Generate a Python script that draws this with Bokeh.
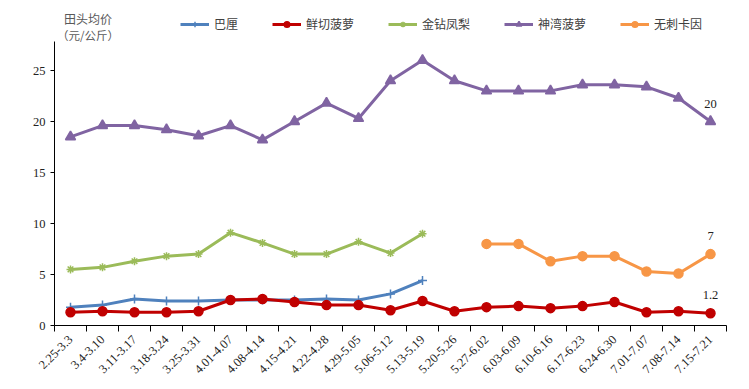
import math
from bokeh.plotting import figure
from bokeh.models import Range1d, FixedTicker, Legend, LegendItem, Label
from bokeh.embed import file_html
from bokeh.resources import INLINE

NaN = float("nan")

weeks = ["2.25-3.3", "3.4-3.10", "3.11-3.17", "3.18-3.24", "3.25-3.31", "4.01-4.07",
         "4.08-4.14", "4.15-4.21", "4.22-4.28", "4.29-5.05", "5.06-5.12", "5.13-5.19",
         "5.20-5.26", "5.27-6.02", "6.03-6.09", "6.10-6.16", "6.17-6.23", "6.24-6.30",
         "7.01-7.07", "7.08-7.14", "7.15-7.21"]

bali = [1.8, 2.0, 2.6, 2.4, 2.4, 2.5, 2.5, 2.5, 2.6, 2.5, 3.1, 4.4,
        NaN, NaN, NaN, NaN, NaN, NaN, NaN, NaN, NaN]
fresh_cut = [1.3, 1.4, 1.3, 1.3, 1.4, 2.5, 2.6, 2.3, 2.0, 2.0, 1.5, 2.4,
             1.4, 1.8, 1.9, 1.7, 1.9, 2.3, 1.3, 1.4, 1.2]
golden = [5.5, 5.7, 6.3, 6.8, 7.0, 9.1, 8.1, 7.0, 7.0, 8.2, 7.1, 9.0,
          NaN, NaN, NaN, NaN, NaN, NaN, NaN, NaN, NaN]
shenwan = [18.5, 19.6, 19.6, 19.2, 18.6, 19.6, 18.2, 20.0, 21.8, 20.3, 24.0, 26.0,
           24.0, 23.0, 23.0, 23.0, 23.6, 23.6, 23.4, 22.3, 20.0]
cayenne = [NaN, NaN, NaN, NaN, NaN, NaN, NaN, NaN, NaN, NaN, NaN, NaN,
           NaN, 8.0, 8.0, 6.3, 6.8, 6.8, 5.3, 5.1, 7.0]

series_names = ["巴厘", "鲜切菠萝", "金钻凤梨", "神湾菠萝", "无刺卡因"]
y_ticks = [0, 5, 10, 15, 20, 25]
y_axis_max = 27.8
y_title = ["田头均价", "（元/公斤）"]

x = list(range(len(weeks)))

# frame spans the full top so the legend and axis title (which sit above the
# axis line) are drawn inside it; the y axis line is bounded to the data area
p = figure(width=749, height=389, output_backend="svg", toolbar_location=None,
           x_range=Range1d(-0.5, len(weeks) - 0.5), y_range=Range1d(0, 325.0 / 10.2),
           min_border_left=54, min_border_right=23, min_border_top=0, min_border_bottom=64)
p.outline_line_color = None
p.xgrid.visible = False
p.ygrid.visible = False
p.background_fill_color = "white"

CJK = "Noto Sans CJK SC"
SERIF = "Liberation Serif"

# axes
p.xaxis.ticker = FixedTicker(ticks=x, minor_ticks=[i - 0.5 for i in range(len(weeks) + 1)])
p.xaxis.major_label_overrides = {i: w for i, w in enumerate(weeks)}
p.xaxis.major_tick_line_color = None
p.xaxis.minor_tick_line_color = "black"
p.xaxis.minor_tick_out = 6
p.xaxis.minor_tick_in = 0
p.xaxis.major_label_orientation = math.pi / 4
p.xaxis.major_label_text_font = SERIF
p.xaxis.major_label_text_font_size = "12.5px"
p.xaxis.major_label_text_color = "#222222"
p.xaxis.major_label_standoff = 6
p.xaxis.axis_line_color = "black"

p.yaxis.ticker = FixedTicker(ticks=y_ticks)
p.yaxis.bounds = (0, y_axis_max)
p.yaxis.minor_tick_line_color = None
p.yaxis.major_tick_out = 4
p.yaxis.major_tick_in = 0
p.yaxis.major_label_text_font = SERIF
p.yaxis.major_label_text_font_size = "12.5px"
p.yaxis.major_label_text_color = "#222222"
p.yaxis.axis_line_color = "black"

styles = [
    (bali, "#4F81BD", "cross", 9),
    (fresh_cut, "#C00000", "circle", 9),
    (golden, "#9BBB59", "asterisk", 8),
    (shenwan, "#8064A2", "triangle", 10),
    (cayenne, "#F79646", "circle", 9),
]

items = []
for name, (vals, color, marker, size) in zip(series_names, styles):
    r1 = p.line(x, vals, line_color=color, line_width=3)
    r2 = p.scatter(x, vals, marker=marker, size=size, fill_color=color,
                   line_color=color, line_width=1.5)
    items.append(LegendItem(label=name, renderers=[r1, r2]))

legend = Legend(items=items, orientation="horizontal", location=(126, 293),
                padding=0, margin=0, spacing=34, glyph_width=29, glyph_height=14,
                label_standoff=5, label_height=14,
                label_text_font=CJK, label_text_font_size="12px",
                label_text_color="#404040",
                border_line_alpha=0, background_fill_alpha=0)
p.add_layout(legend, "center")

# y-axis title (above axis)
p.add_layout(Label(x=0.55, y=30.1, text=y_title[0], text_align="center",
                   text_baseline="middle", text_font=CJK, text_font_size="12px",
                   text_color="#595959"))
p.add_layout(Label(x=0.55, y=28.45, text=y_title[1], text_align="center",
                   text_baseline="middle", text_font=CJK, text_font_size="11.5px",
                   text_color="#595959"))

# end-point data labels
last = len(weeks) - 1
for vals in (shenwan, cayenne, fresh_cut):
    v = vals[last]
    p.add_layout(Label(x=last, y=v, text="%g" % v, text_align="center",
                       text_baseline="middle", y_offset=18, text_font=SERIF,
                       text_font_size="12.5px", text_color="#222222"))

open("out.html", "w").write(file_html(p, INLINE))
